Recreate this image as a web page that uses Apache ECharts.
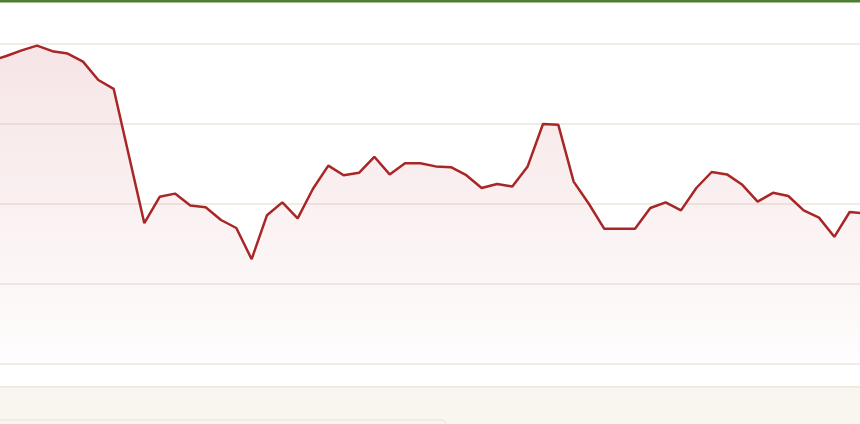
<!DOCTYPE html>
<html>
<head>
<meta charset="utf-8">
<script src="https://cdn.jsdelivr.net/npm/echarts@6/dist/echarts.min.js"></script>
<style>
  html, body { margin: 0; padding: 0; background: #ffffff; }
  #chart { width: 860px; height: 424px; }
</style>
</head>
<body>
<div id="chart"></div>
<script>
// Data
const categories = Array.from({ length: 58 }, (_, i) => i);
const values = [
  379, 385, 392, 398, 391, 388, 378, 355, 344, 260,
  176, 209, 213, 198, 196, 180, 170, 131, 186, 202,
  182, 219, 248, 236, 239, 259, 237, 251, 251, 247,
  246, 236, 220, 225, 222, 247, 300, 299, 228, 200,
  169, 169, 169, 195, 202, 192, 220, 240, 237, 224,
  203, 214, 210, 192, 183, 159, 190, 188
];
const yTicks = [0, 100, 200, 300, 400];
// visible window of the category index (the chart is a cropped view)
const xWindow = [0.587, 56.675];

const chart = echarts.init(document.getElementById('chart'), null, { renderer: 'canvas' });

chart.setOption({
  animation: false,
  backgroundColor: '#ffffff',
  grid: { left: 0, right: 0, top: 44, bottom: 60, containLabel: false },
  xAxis: {
    type: 'value',
    min: xWindow[0],
    max: xWindow[1],
    axisLine: { show: false },
    axisTick: { show: false },
    axisLabel: { show: false },
    splitLine: { show: false }
  },
  yAxis: {
    type: 'value',
    min: yTicks[0],
    max: yTicks[yTicks.length - 1],
    interval: 100,
    axisLine: { show: false },
    axisTick: { show: false },
    axisLabel: { show: false },
    splitLine: { show: true, lineStyle: { color: '#ebe7df', width: 1.5 } }
  },
  series: [{
    type: 'line',
    data: categories.map((c, i) => [c, values[i]]),
    symbol: 'none',
    smooth: false,
    clip: true,
    lineStyle: { color: '#a82626', width: 2.5 },
    areaStyle: {
      color: new echarts.graphic.LinearGradient(0, 0, 0, 1, [
        { offset: 0, color: 'rgba(185, 45, 55, 0.18)' },
        { offset: 1, color: 'rgba(185, 45, 55, 0.015)' }
      ])
    }
  }],
  graphic: [
    { type: 'rect', left: 0, top: 0, shape: { width: 860, height: 2.5 }, style: { fill: '#4f7d2c' }, z: 10 },
    { type: 'rect', left: -3, top: 386, shape: { width: 866, height: 40 }, style: { fill: '#f9f6f0', stroke: '#ebe6de', lineWidth: 1.5 }, z: 5 },
    { type: 'rect', left: -10, top: 419.5, shape: { width: 455, height: 20, r: 4 }, style: { fill: '#f9f6f0', stroke: '#ece5da', lineWidth: 1.2 }, z: 6 }
  ]
});
</script>
</body>
</html>
